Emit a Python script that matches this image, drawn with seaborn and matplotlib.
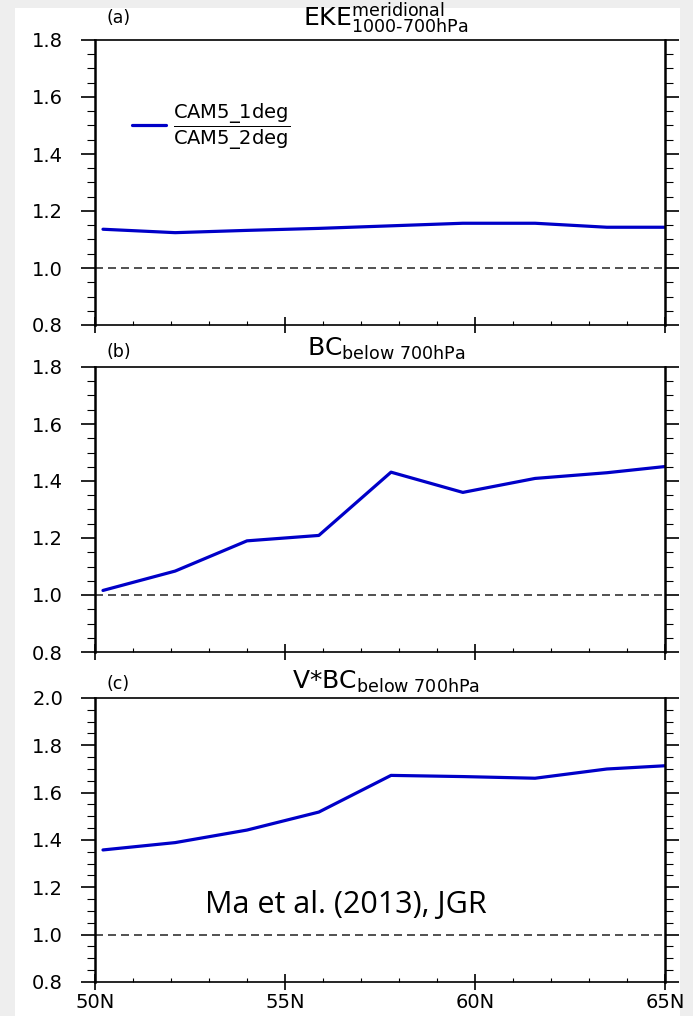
import numpy as np
import pandas as pd
import seaborn as sns
import matplotlib
matplotlib.use("Agg")
import matplotlib.pyplot as plt
import matplotlib.transforms as mtransforms
from matplotlib.ticker import MultipleLocator, FixedLocator, FormatStrFormatter
from matplotlib.patches import Rectangle

# ---------------- data ----------------
lat = [50.21, 52.11, 54.00, 55.89, 57.79, 59.68, 61.58, 63.47, 65.37]
eke_ratio = [1.136, 1.124, 1.132, 1.139, 1.148, 1.157, 1.157, 1.143, 1.143]
bc_ratio = [1.016, 1.084, 1.190, 1.209, 1.431, 1.360, 1.409, 1.429, 1.456]
vbc_ratio = [1.358, 1.389, 1.442, 1.518, 1.673, 1.668, 1.661, 1.700, 1.717]

xticks = [50, 55, 60, 65]
xticklabels = ["50N", "55N", "60N", "65N"]
panel_tags = ["(a)", "(b)", "(c)"]
titles = [r"$\mathrm{EKE}^{\text{meridional}}_{\text{1000-700hPa}}$",
          r"$\mathrm{BC}_{\text{below 700hPa}}$",
          r"$\text{V*BC}_{\text{below 700hPa}}$"]
ylims = [(0.8, 1.8), (0.8, 1.8), (0.8, 2.0)]
legend_label = r"$\dfrac{\mathrm{CAM5\_1deg}}{\mathrm{CAM5\_2deg}}$"
reference_value = 1.0
note = "Ma et al. (2013), JGR"

# ---------------- style ----------------
sns.set_theme(style="ticks")
plt.rcParams["font.family"] = ["DejaVu Sans"]
plt.rcParams["text.color"] = "black"
plt.rcParams["axes.labelcolor"] = "black"
plt.rcParams["xtick.color"] = "black"
plt.rcParams["ytick.color"] = "black"
plt.rcParams["mathtext.fontset"] = "custom"
plt.rcParams["mathtext.rm"] = "DejaVu Sans"
plt.rcParams["mathtext.it"] = "DejaVu Sans:italic"
plt.rcParams["mathtext.bf"] = "DejaVu Sans:bold"

W, H = 693, 1016
fig = plt.figure(figsize=(W / 100, H / 100), dpi=100, facecolor="#eeeeee")
fig.patches.append(Rectangle((15 / W, 0), 665 / W, 1 - 8 / H, transform=fig.transFigure,
                             facecolor="white", edgecolor="none", zorder=-10))

left = 95 / W
width = 570 / W
boxes = [(40, 325), (367, 652), (698, 982)]
series = [eke_ratio, bc_ratio, vbc_ratio]
tag_offsets = [17, 10, 9]      # px above axes top (baseline)
title_offsets = [14, 11, 9]
blue = "#0000c8"

for i, ((top, bot), vals) in enumerate(zip(boxes, series)):
    ax = fig.add_axes([left, 1 - bot / H, width, (bot - top) / H])
    ax.set_facecolor("white")
    df = pd.DataFrame({"lat": lat, "ratio": vals})
    sns.lineplot(data=df, x="lat", y="ratio", ax=ax, color=blue, lw=2.3,
                 sort=False, estimator=None,
                 label=legend_label if i == 0 else None, legend=False)
    ax.axhline(reference_value, color="#333333", lw=1.2, ls=(0, (4.8, 3.0)), zorder=1)
    ax.set_xlim(50, 65)
    ax.set_ylim(*ylims[i])
    ax.set_xlabel("")
    ax.set_ylabel("")

    # y ticks: outward on both sides
    ax.yaxis.set_major_locator(MultipleLocator(0.2))
    ax.yaxis.set_minor_locator(MultipleLocator(0.05))
    ax.yaxis.set_major_formatter(FormatStrFormatter("%.1f"))
    ax.tick_params(axis="y", which="major", direction="out", length=10, width=1.2,
                   left=True, right=True, labelleft=True, labelright=False,
                   labelsize=14, pad=13, colors="black")
    ax.tick_params(axis="y", which="minor", direction="out", length=6, width=0.8,
                   left=True, right=True)
    # x ticks at bottom
    ax.xaxis.set_major_locator(FixedLocator(xticks))
    ax.xaxis.set_minor_locator(MultipleLocator(1))
    ax.tick_params(axis="x", which="major", direction="inout", length=12, width=1.2,
                   top=False, bottom=True, labelsize=14, pad=2, colors="black")
    ax.tick_params(axis="x", which="minor", direction="in", length=3, width=0.8,
                   top=False, bottom=True)
    if i == 2:
        ax.set_xticklabels(xticklabels)
    else:
        ax.set_xticklabels([])

    for s in ["left", "right"]:
        ax.spines[s].set_linewidth(1.8)
    for s in ["top", "bottom"]:
        ax.spines[s].set_linewidth(1.2)
    for s in ax.spines.values():
        s.set_color("black")
        s.set_visible(True)

    tag_tr = mtransforms.offset_copy(ax.transAxes, fig=fig, x=0, y=tag_offsets[i], units="dots")
    ax.text(0.02, 1.0, panel_tags[i], transform=tag_tr, ha="left", va="baseline",
            fontsize=12.5, color="black")
    title_tr = mtransforms.offset_copy(ax.transAxes, fig=fig, x=0, y=title_offsets[i], units="dots")
    ax.text(0.51, 1.0, titles[i], transform=title_tr, ha="center", va="baseline",
            fontsize=18, color="black")

    if i == 0:
        ax.legend(loc="center left", bbox_to_anchor=(0.035, 0.695), frameon=False,
                  handlelength=1.7, handletextpad=0.4, fontsize=14, labelcolor="black")
    if i == 2:
        ax.text(0.44, 0.243, note, transform=ax.transAxes, ha="center", va="baseline",
                fontsize=22, family="Open Sans", color="black")

fig.savefig("out.png", dpi=100, facecolor=fig.get_facecolor())
